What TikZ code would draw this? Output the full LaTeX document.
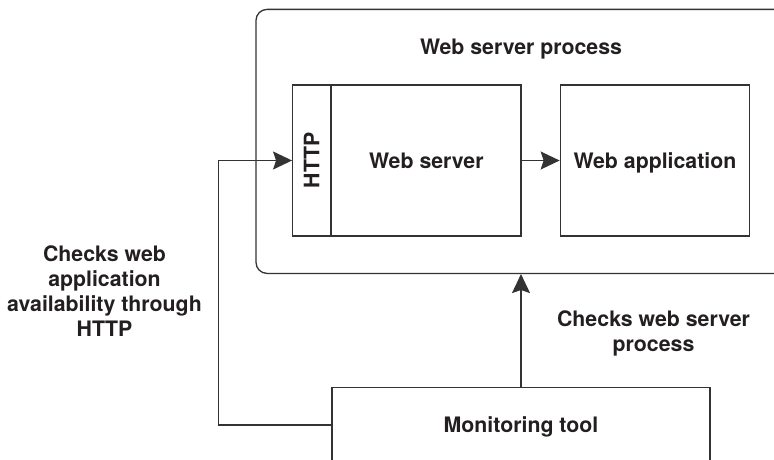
\documentclass[tikz,border=0pt]{standalone}
\usepackage{fontspec}
\setmainfont{TeX Gyre Heros}
\usepackage{graphicx}
\usetikzlibrary{arrows.meta, positioning}
\definecolor{wline}{HTML}{333333}
\definecolor{wtext}{HTML}{231F20}
\tikzset{
  % scatola generica
  frame/.style={draw=wline, line width=1.3pt, minimum height=151pt, inner sep=0pt,
    align=center, text=wtext, font=\fontsize{21.3}{25}\selectfont\bfseries},
  % scatola con testo centrato sulle maiuscole
  box/.style={frame, text height=15pt, text depth=0pt},
  % riquadro del processo
  procbox/.style={frame, rounded corners=11pt},
  % etichette
  lbl/.style={inner sep=0pt, align=center, text=wtext,
    font=\fontsize{21.3}{25}\selectfont\bfseries},
  % collegamenti
  msg/.style={-{Stealth[length=19pt, width=18pt, inset=3pt]}, line width=1.3pt, wline},
}

\begin{document}
\begin{tikzpicture}[x=1pt, y=-1pt]
  \useasboundingbox (0,0) rectangle (774,460);
  \node[procbox, minimum width=534pt, minimum height=264pt] (proc) at (523,141.4) {};
  \node[box, draw=none] (proctitle) at (521,47) {Web server process};
  \node[box, minimum width=189.3pt] (ws) at (426.35,160.5) {Web server};
  \node[frame, minimum width=37.7pt, left=0pt of ws] (http) {\rotatebox{90}{HTTP}};
  \node[box, minimum width=189.3pt, right=38pt of ws] (app) {Web application};
  \node[box, minimum width=378pt, minimum height=75pt] (mon) at (521,425) {Monitoring tool};
  \coordinate (bend) at (218.3,160.5);
  \draw[msg] (ws) -- (app);
  \draw[msg] (mon.west) -| (bend) -- (http.west);
  \draw[msg] (mon.north) -- (mon.north |- proc.south);
  \node[lbl, anchor=north] (chkapp) at (104.5,245.5) {Checks web\\application\\availability through\\HTTP};
  \node[lbl, anchor=north] (chkproc) at (653.5,310.5) {Checks web server\\process};
\end{tikzpicture}
\end{document}
